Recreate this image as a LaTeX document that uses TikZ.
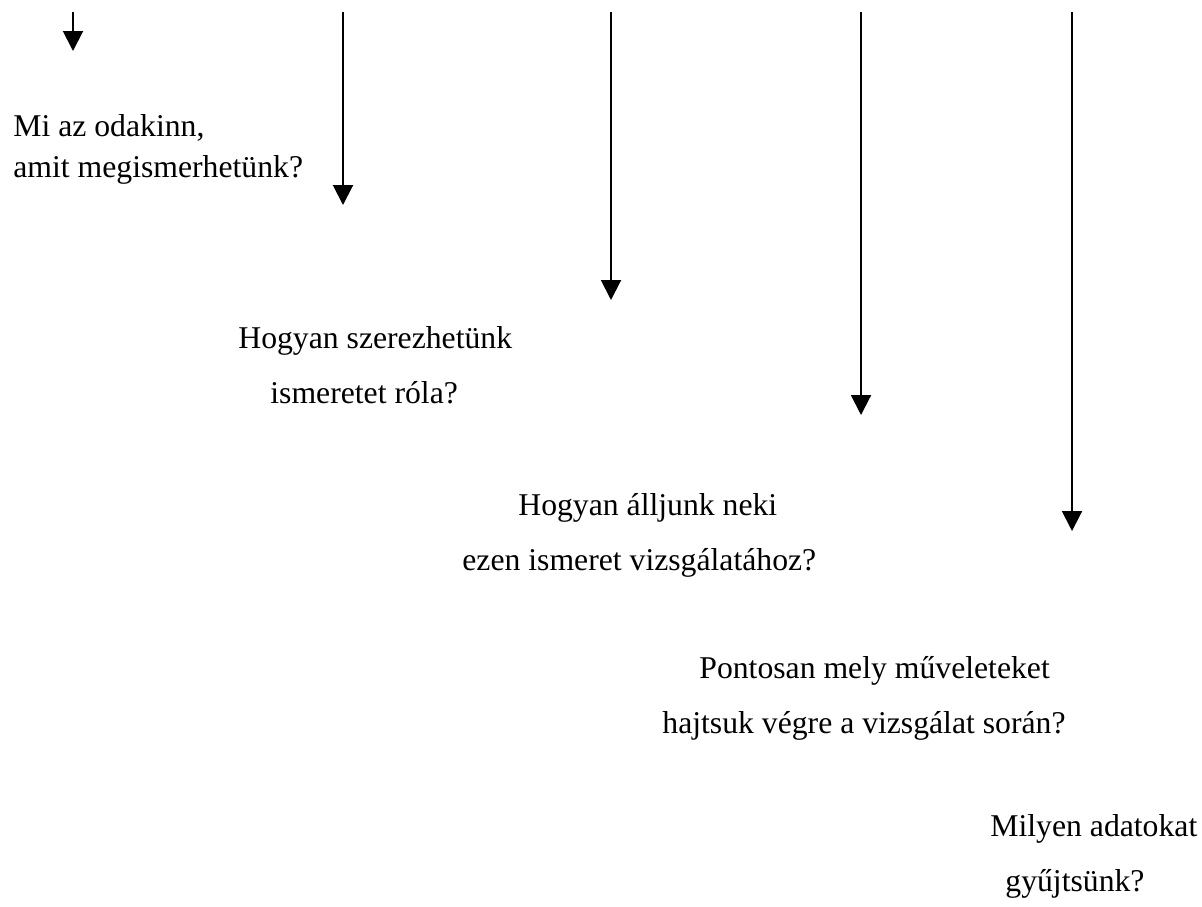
\documentclass[tikz,border=0pt]{standalone}
\usepackage{fontspec}
\setmainfont{Liberation Serif}
\usetikzlibrary{positioning,arrows.meta}

\begin{document}
\begin{tikzpicture}[
            x=0.5pt, y=-0.5pt,
            question/.style={anchor=base west, inner sep=0pt,
                font=\fontsize{15.85pt}{19pt}\selectfont},
            down/.style={-{Triangle[width=10pt,length=10pt]}, line width=1pt},
        ]
            \useasboundingbox (0,0) rectangle (1202,906);

            % start points along the top edge
            \coordinate (top1) at (73,12);
            \coordinate (top2) at (343,12);
            \coordinate (top3) at (611,12);
            \coordinate (top4) at (861,12);
            \coordinate (top5) at (1072,12);

            \coordinate (end1) at (73,51);
            \coordinate (end2) at (343,205);
            \coordinate (end3) at (611,300);
            \coordinate (end4) at (861,415);
            \coordinate (end5) at (1072,531);

            \draw[down] (top1) -- (end1);
            \draw[down] (top2) -- (end2);
            \draw[down] (top3) -- (end3);
            \draw[down] (top4) -- (end4);
            \draw[down] (top5) -- (end5);

            % questions
            \node [question] (q1a) at (13,136)  {Mi az odakinn,};
            \node [question] (q1b) at (13,177)  {amit megismerhetünk?};

            \node [question] (q2a) at (238,348) {Hogyan szerezhetünk};
            \node [question] (q2b) at (270,403) {ismeretet róla?};

            \node [question] (q3a) at (518,515) {Hogyan álljunk neki};
            \node [question] (q3b) at (462,570) {ezen ismeret vizsgálatához?};

            \node [question] (q4a) at (699,678) {Pontosan mely műveleteket};
            \node [question] (q4b) at (662,733) {hajtsuk végre a vizsgálat során?};

            \node [question] (q5a) at (990,836) {Milyen adatokat};
            \node [question] (q5b) at (1005,891) {gyűjtsünk?};

        \end{tikzpicture}
\end{document}
